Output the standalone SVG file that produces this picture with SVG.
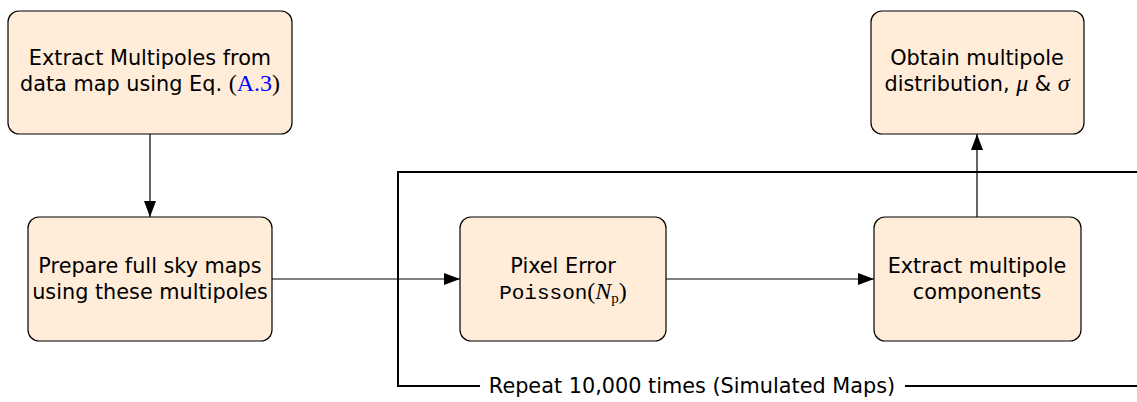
<svg xmlns="http://www.w3.org/2000/svg" width="1137" height="402" viewBox="0 0 1137 402">
<defs>
<style>
.box{fill:#FFECD9;stroke:#000;stroke-width:1.2}
.t{font-family:"DejaVu Sans","Liberation Sans",sans-serif;font-size:20.8px;fill:#000;text-anchor:middle}
.m{font-family:"Liberation Serif",serif;font-style:italic;font-size:24px}
.r{font-family:"Liberation Serif",serif;font-size:24px}
.tt{font-family:"Liberation Mono",monospace;font-size:21px}
.c{stroke:#000;stroke-width:1.2;fill:none}
.loop{stroke:#000;stroke-width:2;fill:none}
</style>
<marker id="ah" markerWidth="16" markerHeight="12" refX="16" refY="6" orient="auto" markerUnits="userSpaceOnUse">
<path d="M0,0 L16,6 L0,12 Z" fill="#000"/>
</marker>
</defs>
<g id="loop">
<path class="loop" d="M480,386 H398 V172 H1137"/>
<path class="loop" d="M905,386 H1137"/>
<text class="t" x="692" y="393">Repeat 10,000 times (Simulated Maps)</text>
</g>
<g id="connectors">
<line class="c" x1="150" y1="134" x2="150" y2="217" marker-end="url(#ah)"/>
<line class="c" x1="272" y1="279" x2="460" y2="279" marker-end="url(#ah)"/>
<line class="c" x1="666" y1="279" x2="874" y2="279" marker-end="url(#ah)"/>
<line class="c" x1="977" y1="217" x2="977" y2="134" marker-end="url(#ah)"/>
</g>
<g id="n1">
<rect class="box" x="8" y="11" width="284" height="123" rx="11"/>
<text class="t" x="150" y="65">Extract Multipoles from</text>
<text class="t" x="150" y="91">data map using Eq. <tspan class="r">(</tspan><tspan class="r" fill="#0000FF">A.3</tspan><tspan class="r">)</tspan></text>
</g>
<g id="n2">
<rect class="box" x="28" y="217" width="244" height="124" rx="11"/>
<text class="t" x="150" y="273">Prepare full sky maps</text>
<text class="t" x="150" y="299">using these multipoles</text>
</g>
<g id="n3">
<rect class="box" x="460" y="217" width="206" height="124" rx="11"/>
<text class="t" x="563" y="273">Pixel Error</text>
<text class="t" x="563" y="299"><tspan class="tt">Poisson</tspan><tspan class="r">(</tspan><tspan class="m">N</tspan><tspan class="r" style="font-size:15px" dy="4">p</tspan><tspan class="r" dy="-4">)</tspan></text>
</g>
<g id="n4">
<rect class="box" x="874" y="217" width="207" height="124" rx="11"/>
<text class="t" x="977" y="273">Extract multipole</text>
<text class="t" x="977" y="299">components</text>
</g>
<g id="n5">
<rect class="box" x="871" y="11" width="213" height="123" rx="11"/>
<text class="t" x="977" y="65">Obtain multipole</text>
<text class="t" x="977" y="91">distribution, <tspan class="m">μ</tspan> &amp; <tspan class="m">σ</tspan></text>
</g>
</svg>
